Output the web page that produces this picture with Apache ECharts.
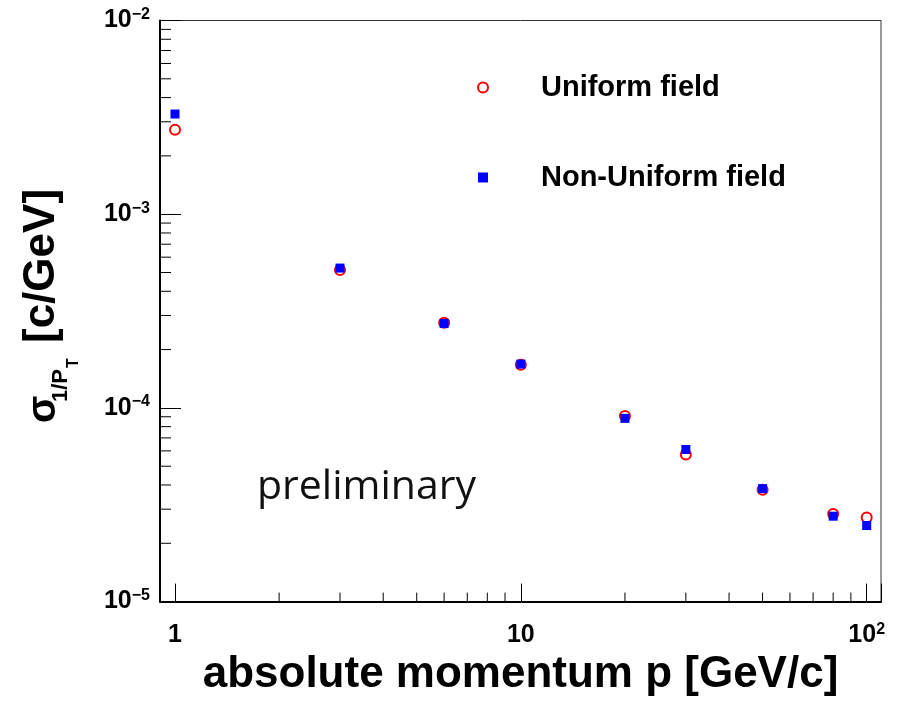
<!DOCTYPE html>
<html>
<head>
<meta charset="utf-8">
<script src="https://cdn.jsdelivr.net/npm/echarts@6/dist/echarts.min.js"></script>
<style>
  html, body { margin: 0; padding: 0; background: #fff; }
  #chart { width: 899px; height: 702px; }
</style>
</head>
<body>
<div id="chart"></div>
<script>
// Momentum points (GeV/c)
const momentum = [1, 3, 6, 10, 20, 30, 50, 80, 100];
// Resolution of 1/pT (c/GeV)
const uniformField = [2.73e-3, 5.15e-4, 2.75e-4, 1.67e-4, 9.09e-5, 5.74e-5, 3.78e-5, 2.83e-5, 2.72e-5];
const nonUniformField = [3.29e-3, 5.27e-4, 2.73e-4, 1.684e-4, 8.83e-5, 6.10e-5, 3.83e-5, 2.76e-5, 2.47e-5];
const seriesNames = ['Uniform field', 'Non-Uniform field'];

// Axis ranges
const xRange = [0.905, 110];
const yRange = [1e-5, 1e-2];

// Minor tick positions (2..9 within each decade)
const xMinorTicks = [2, 3, 4, 5, 6, 7, 8, 9, 20, 30, 40, 50, 60, 70, 80, 90];
const yMinorTicks = [
  2e-5, 3e-5, 4e-5, 5e-5, 6e-5, 7e-5, 8e-5, 9e-5,
  2e-4, 3e-4, 4e-4, 5e-4, 6e-4, 7e-4, 8e-4, 9e-4,
  2e-3, 3e-3, 4e-3, 5e-3, 6e-3, 7e-3, 8e-3, 9e-3
];

const FONT = '"Liberation Sans", Arial, Helvetica, sans-serif';

const chart = echarts.init(document.getElementById('chart'), null, { renderer: 'canvas' });

function isDecade(v) {
  const e = Math.log10(v);
  return Math.abs(e - Math.round(e)) < 1e-6;
}

const labelRich = {
  b: { fontFamily: FONT, fontWeight: 'bold', fontSize: 25, lineHeight: 28, color: '#000' },
  s: { fontFamily: FONT, fontWeight: 'bold', fontSize: 16, lineHeight: 16, color: '#000', verticalAlign: 'top' }
};

const option = {
  backgroundColor: '#fff',
  animation: false,
  grid: {
    left: 160, top: 20.5, right: 18, bottom: 96,
    show: true, borderColor: '#333', borderWidth: 1, backgroundColor: 'transparent'
  },
  legend: {
    orient: 'vertical',
    left: 472, top: 68,
    itemGap: 61,
    itemWidth: 10, itemHeight: 10,
    data: seriesNames,
    selectedMode: false,
    textStyle: {
      fontFamily: FONT, fontWeight: 'bold', fontSize: 29, color: '#000',
      padding: [0, 0, 0, 48]
    }
  },
  xAxis: {
    type: 'log', logBase: 10,
    min: xRange[0], max: xRange[1],
    splitLine: { show: false },
    axisLine: { onZero: false, lineStyle: { color: '#000', width: 2 } },
    axisTick: { inside: true, length: 18, lineStyle: { color: '#000', width: 1 } },
    axisLabel: {
      margin: 20,
      formatter: function (v) {
        if (!isDecade(v)) return '';
        const e = Math.round(Math.log10(v));
        if (e === 0) return '{b|1}';
        if (e === 1) return '{b|10}';
        return '{b|10}{s|' + e + '}';
      },
      rich: labelRich
    },
    name: 'absolute momentum p [GeV/c]',
    nameLocation: 'middle',
    nameGap: 47,
    nameTextStyle: { fontFamily: FONT, fontWeight: 'bold', fontSize: 44, color: '#000' }
  },
  yAxis: {
    type: 'log', logBase: 10,
    min: yRange[0], max: yRange[1],
    splitLine: { show: false },
    axisLine: { onZero: false, lineStyle: { color: '#000', width: 2 } },
    axisTick: { inside: true, length: 21, lineStyle: { color: '#000', width: 1 } },
    axisLabel: {
      margin: 10,
      formatter: function (v) {
        if (!isDecade(v)) return '';
        const e = Math.round(Math.log10(v));
        return '{b|10}{s|\u2212' + (-e) + '}';
      },
      rich: labelRich
    }
  },
  graphic: [
    {
      type: 'group', x: 58, y: 423, rotation: Math.PI / 2,
      children: [
        { type: 'text', x: 0, y: -14, style: { text: '\u03C3', font: 'bold 40px ' + FONT, fill: '#000', align: 'left', verticalAlign: 'middle' } },
        { type: 'text', x: 21, y: 2.5, style: { text: '1/P', font: 'bold 22px ' + FONT, fill: '#000', align: 'left', verticalAlign: 'middle' } },
        { type: 'text', x: 55, y: 16, style: { text: 'T', font: 'bold 16px ' + FONT, fill: '#000', align: 'left', verticalAlign: 'middle' } },
        { type: 'text', x: 80, y: -16, style: { text: '[c/GeV]', font: 'bold 44px ' + FONT, fill: '#000', align: 'left', verticalAlign: 'middle' } }
      ]
    },
    {
      type: 'text', x: 257, y: 487,
      style: { text: 'preliminary', font: '41px "Open Sans", sans-serif', fill: '#111', align: 'left', verticalAlign: 'middle' }
    }
  ],
  series: [
    {
      type: 'custom',
      silent: true,
      renderItem: function (params, api) {
        const p = api.coord([api.value(0), api.value(1)]);
        return { type: 'line', shape: { x1: p[0], y1: p[1], x2: p[0], y2: p[1] - 9 }, style: { stroke: '#000', lineWidth: 1 } };
      },
      data: xMinorTicks.map(v => [v, yRange[0]]),
      z: 1
    },
    {
      type: 'custom',
      silent: true,
      renderItem: function (params, api) {
        const p = api.coord([api.value(0), api.value(1)]);
        return { type: 'line', shape: { x1: p[0], y1: p[1], x2: p[0] + 11, y2: p[1] }, style: { stroke: '#000', lineWidth: 1 } };
      },
      data: yMinorTicks.map(v => [xRange[0], v]),
      z: 1
    },
    {
      name: seriesNames[0],
      type: 'scatter',
      symbol: 'emptyCircle',
      symbolSize: 10,
      itemStyle: { color: '#ff0000', borderColor: '#ff0000', borderWidth: 1, opacity: 1 },
      data: momentum.map((m, i) => [m, uniformField[i]]),
      z: 3
    },
    {
      name: seriesNames[1],
      type: 'scatter',
      symbol: 'rect',
      symbolSize: 9,
      itemStyle: { color: '#0000ff', opacity: 1 },
      data: momentum.map((m, i) => [m, nonUniformField[i]]),
      z: 4
    }
  ]
};

chart.setOption(option);
</script>
</body>
</html>
